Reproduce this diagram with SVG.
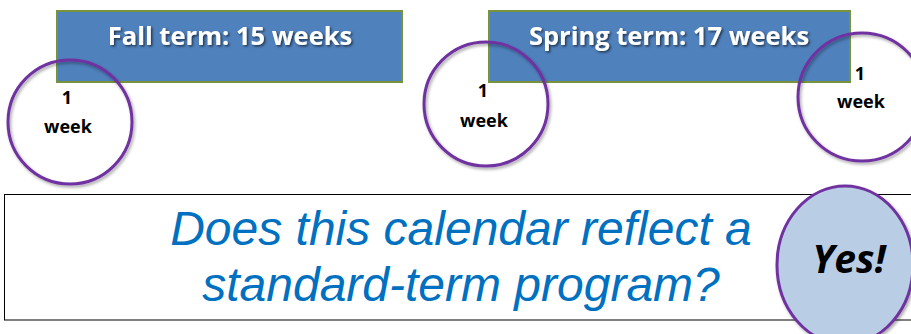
<svg xmlns="http://www.w3.org/2000/svg" width="911" height="334" viewBox="0 0 911 334">
<defs>
<filter id="tshadow" x="-10%" y="-30%" width="120%" height="160%">
<feDropShadow dx="1.5" dy="1.5" stdDeviation="1" flood-color="#000" flood-opacity="0.6"/>
</filter>
<filter id="cshadow" x="-10%" y="-10%" width="125%" height="125%">
<feDropShadow dx="1.5" dy="2" stdDeviation="1.5" flood-color="#000" flood-opacity="0.35"/>
</filter>
</defs>
<style>
.term{fill:#4F81BD;stroke:#77933C;stroke-width:2}
.termtxt{font-family:"Open Sans",sans-serif;font-weight:bold;font-size:25.5px;fill:#fff;text-anchor:middle}
.week{fill:none;stroke:#7030A0;stroke-width:3}
.wtxt{font-family:"Open Sans",sans-serif;font-weight:bold;font-size:18px;fill:#000;text-anchor:middle}
.q{font-family:"Liberation Sans",Arial,sans-serif;font-style:italic;font-size:48px;fill:#0070C0;text-anchor:middle}
.yes{fill:#B9CDE5;stroke:#7030A0;stroke-width:3}
.yestxt{font-family:"Open Sans",sans-serif;font-weight:bold;font-style:italic;font-size:39px;fill:#000;text-anchor:middle}
</style>
<rect width="911" height="334" fill="#fff"/>
<g id="fall">
<rect class="term" x="57" y="11" width="345" height="71"/>
<text class="termtxt" x="230" y="45" filter="url(#tshadow)">Fall term: 15 weeks</text>
</g>
<g id="spring">
<rect class="term" x="489" y="11" width="361" height="71"/>
<text class="termtxt" x="669" y="45" filter="url(#tshadow)">Spring term: 17 weeks</text>
</g>
<g id="week1">
<circle class="week" cx="70" cy="122" r="62" filter="url(#cshadow)"/>
<text class="wtxt" x="67" y="104">1</text>
<text class="wtxt" x="68" y="133">week</text>
</g>
<g id="week2">
<circle class="week" cx="486" cy="104" r="62" filter="url(#cshadow)"/>
<text class="wtxt" x="483" y="97">1</text>
<text class="wtxt" x="484" y="127">week</text>
</g>
<g id="week3">
<circle class="week" cx="862" cy="97" r="64" filter="url(#cshadow)"/>
<text class="wtxt" x="860" y="80">1</text>
<text class="wtxt" x="861" y="108">week</text>
</g>
<g id="question">
<rect x="4.5" y="194.5" width="920" height="125.5" fill="#fff" stroke="#000" stroke-width="1"/>
<text class="q" x="461" y="245">Does this calendar reflect a</text>
<text class="q" x="461" y="301">standard-term program?</text>
</g>
<g id="yes">
<ellipse class="yes" cx="845" cy="265" rx="68" ry="79" filter="url(#cshadow)"/>
<text class="yestxt" x="849" y="273">Yes!</text>
</g>
<g id="connectors"></g>
</svg>
